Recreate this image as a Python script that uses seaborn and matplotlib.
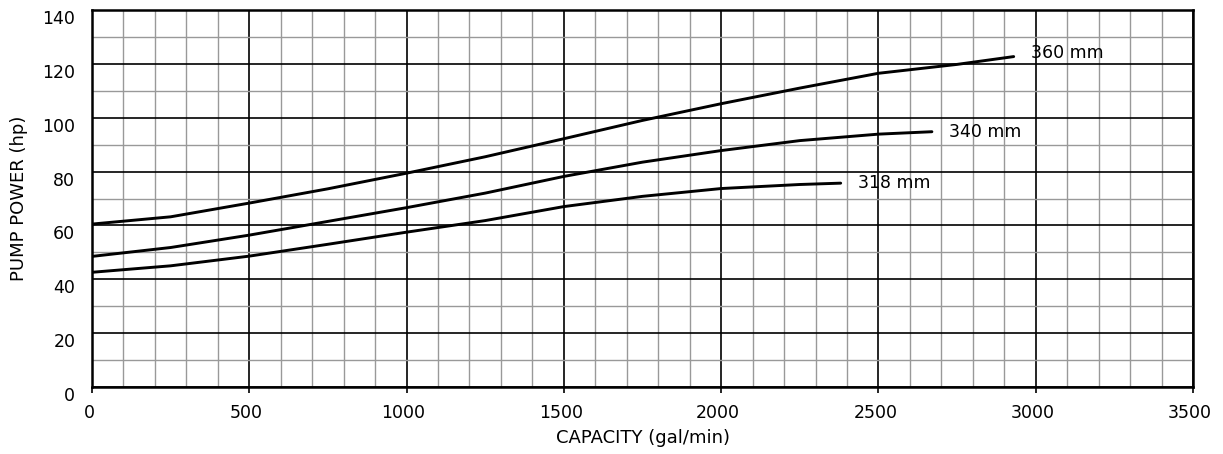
import pandas as pd
import matplotlib
matplotlib.use("Agg")
import matplotlib.pyplot as plt
import matplotlib.transforms as mtransforms
from matplotlib.ticker import MultipleLocator
import seaborn as sns

# Pump power curves (capacity gal/min -> power hp)
cap_360 = [0, 250, 500, 750, 1000, 1250, 1500, 1750, 2000, 2250, 2500, 2750, 2930]
pow_360 = [60.5, 63.2, 68.3, 73.6, 79.4, 85.5, 92.2, 99.0, 105.2, 111.0, 116.5, 119.8, 122.7]

cap_340 = [0, 250, 500, 750, 1000, 1250, 1500, 1750, 2000, 2250, 2500, 2670]
pow_340 = [48.5, 51.8, 56.4, 61.5, 66.6, 72.0, 78.2, 83.5, 87.8, 91.5, 93.9, 94.8]

cap_318 = [0, 250, 500, 750, 1000, 1250, 1500, 1750, 2000, 2250, 2380]
pow_318 = [42.6, 45.0, 48.6, 53.0, 57.5, 61.8, 67.0, 70.8, 73.7, 75.2, 75.7]

impellers = ["360 mm", "340 mm", "318 mm"]

frames = []
for name, cap, pw in zip(impellers, [cap_360, cap_340, cap_318], [pow_360, pow_340, pow_318]):
    frames.append(pd.DataFrame({"capacity": cap, "power": pw, "impeller": name}))
df = pd.concat(frames, ignore_index=True)

sns.set_style("white")
plt.rcParams["font.family"] = ["DejaVu Sans"]
plt.rcParams.update({"text.color": "black", "axes.labelcolor": "black",
                     "xtick.color": "black", "ytick.color": "black"})

fig = plt.figure(figsize=(12.23, 4.54), dpi=100)
ax = fig.add_axes([92 / 1223, 67 / 454, 1101 / 1223, 377 / 454])

sns.lineplot(data=df, x="capacity", y="power", hue="impeller",
             palette=["black"] * 3, linewidth=2.1, legend=False, ax=ax, sort=False)

# curve labels just past the end of each line
for name, cap, pw in zip(impellers, [cap_360, cap_340, cap_318], [pow_360, pow_340, pow_318]):
    ax.text(cap[-1] + 55, pw[-1] + (1.5 if name == "360 mm" else 0), name,
            fontsize=12.5, va="center", ha="left", color="black")

ax.set_xlim(0, 3500)
ax.set_ylim(0, 140)
ax.xaxis.set_major_locator(MultipleLocator(500))
ax.xaxis.set_minor_locator(MultipleLocator(100))
ax.yaxis.set_major_locator(MultipleLocator(20))
ax.yaxis.set_minor_locator(MultipleLocator(10))

ax.grid(which="minor", color="#999999", linewidth=1.0)
ax.grid(which="major", color="black", linewidth=1.2)
ax.set_axisbelow(True)

for s in ax.spines.values():
    s.set_color("black")
    s.set_linewidth(1.8)
    s.set_visible(True)

ax.tick_params(axis="x", which="major", direction="out", length=4, width=1.2,
               color="black", labelcolor="black", labelsize=12.5, pad=8, bottom=True)
ax.tick_params(axis="y", which="major", length=0, labelcolor="black", labelsize=12.5, pad=12)
ax.tick_params(which="minor", length=0)

# labels in the original sit slightly below / left of their gridline
dy = mtransforms.ScaledTranslation(0, -7 / 100, fig.dpi_scale_trans)
for lab in ax.get_yticklabels():
    lab.set_transform(lab.get_transform() + dy)
dx = mtransforms.ScaledTranslation(-3 / 100, 0, fig.dpi_scale_trans)
for lab in ax.get_xticklabels():
    lab.set_transform(lab.get_transform() + dx)

ax.set_xlabel("CAPACITY (gal/min)", fontsize=13, labelpad=5, color="black")
ax.set_ylabel("PUMP POWER (hp)", fontsize=13, labelpad=10, color="black")

fig.savefig("out.png", dpi=100)
